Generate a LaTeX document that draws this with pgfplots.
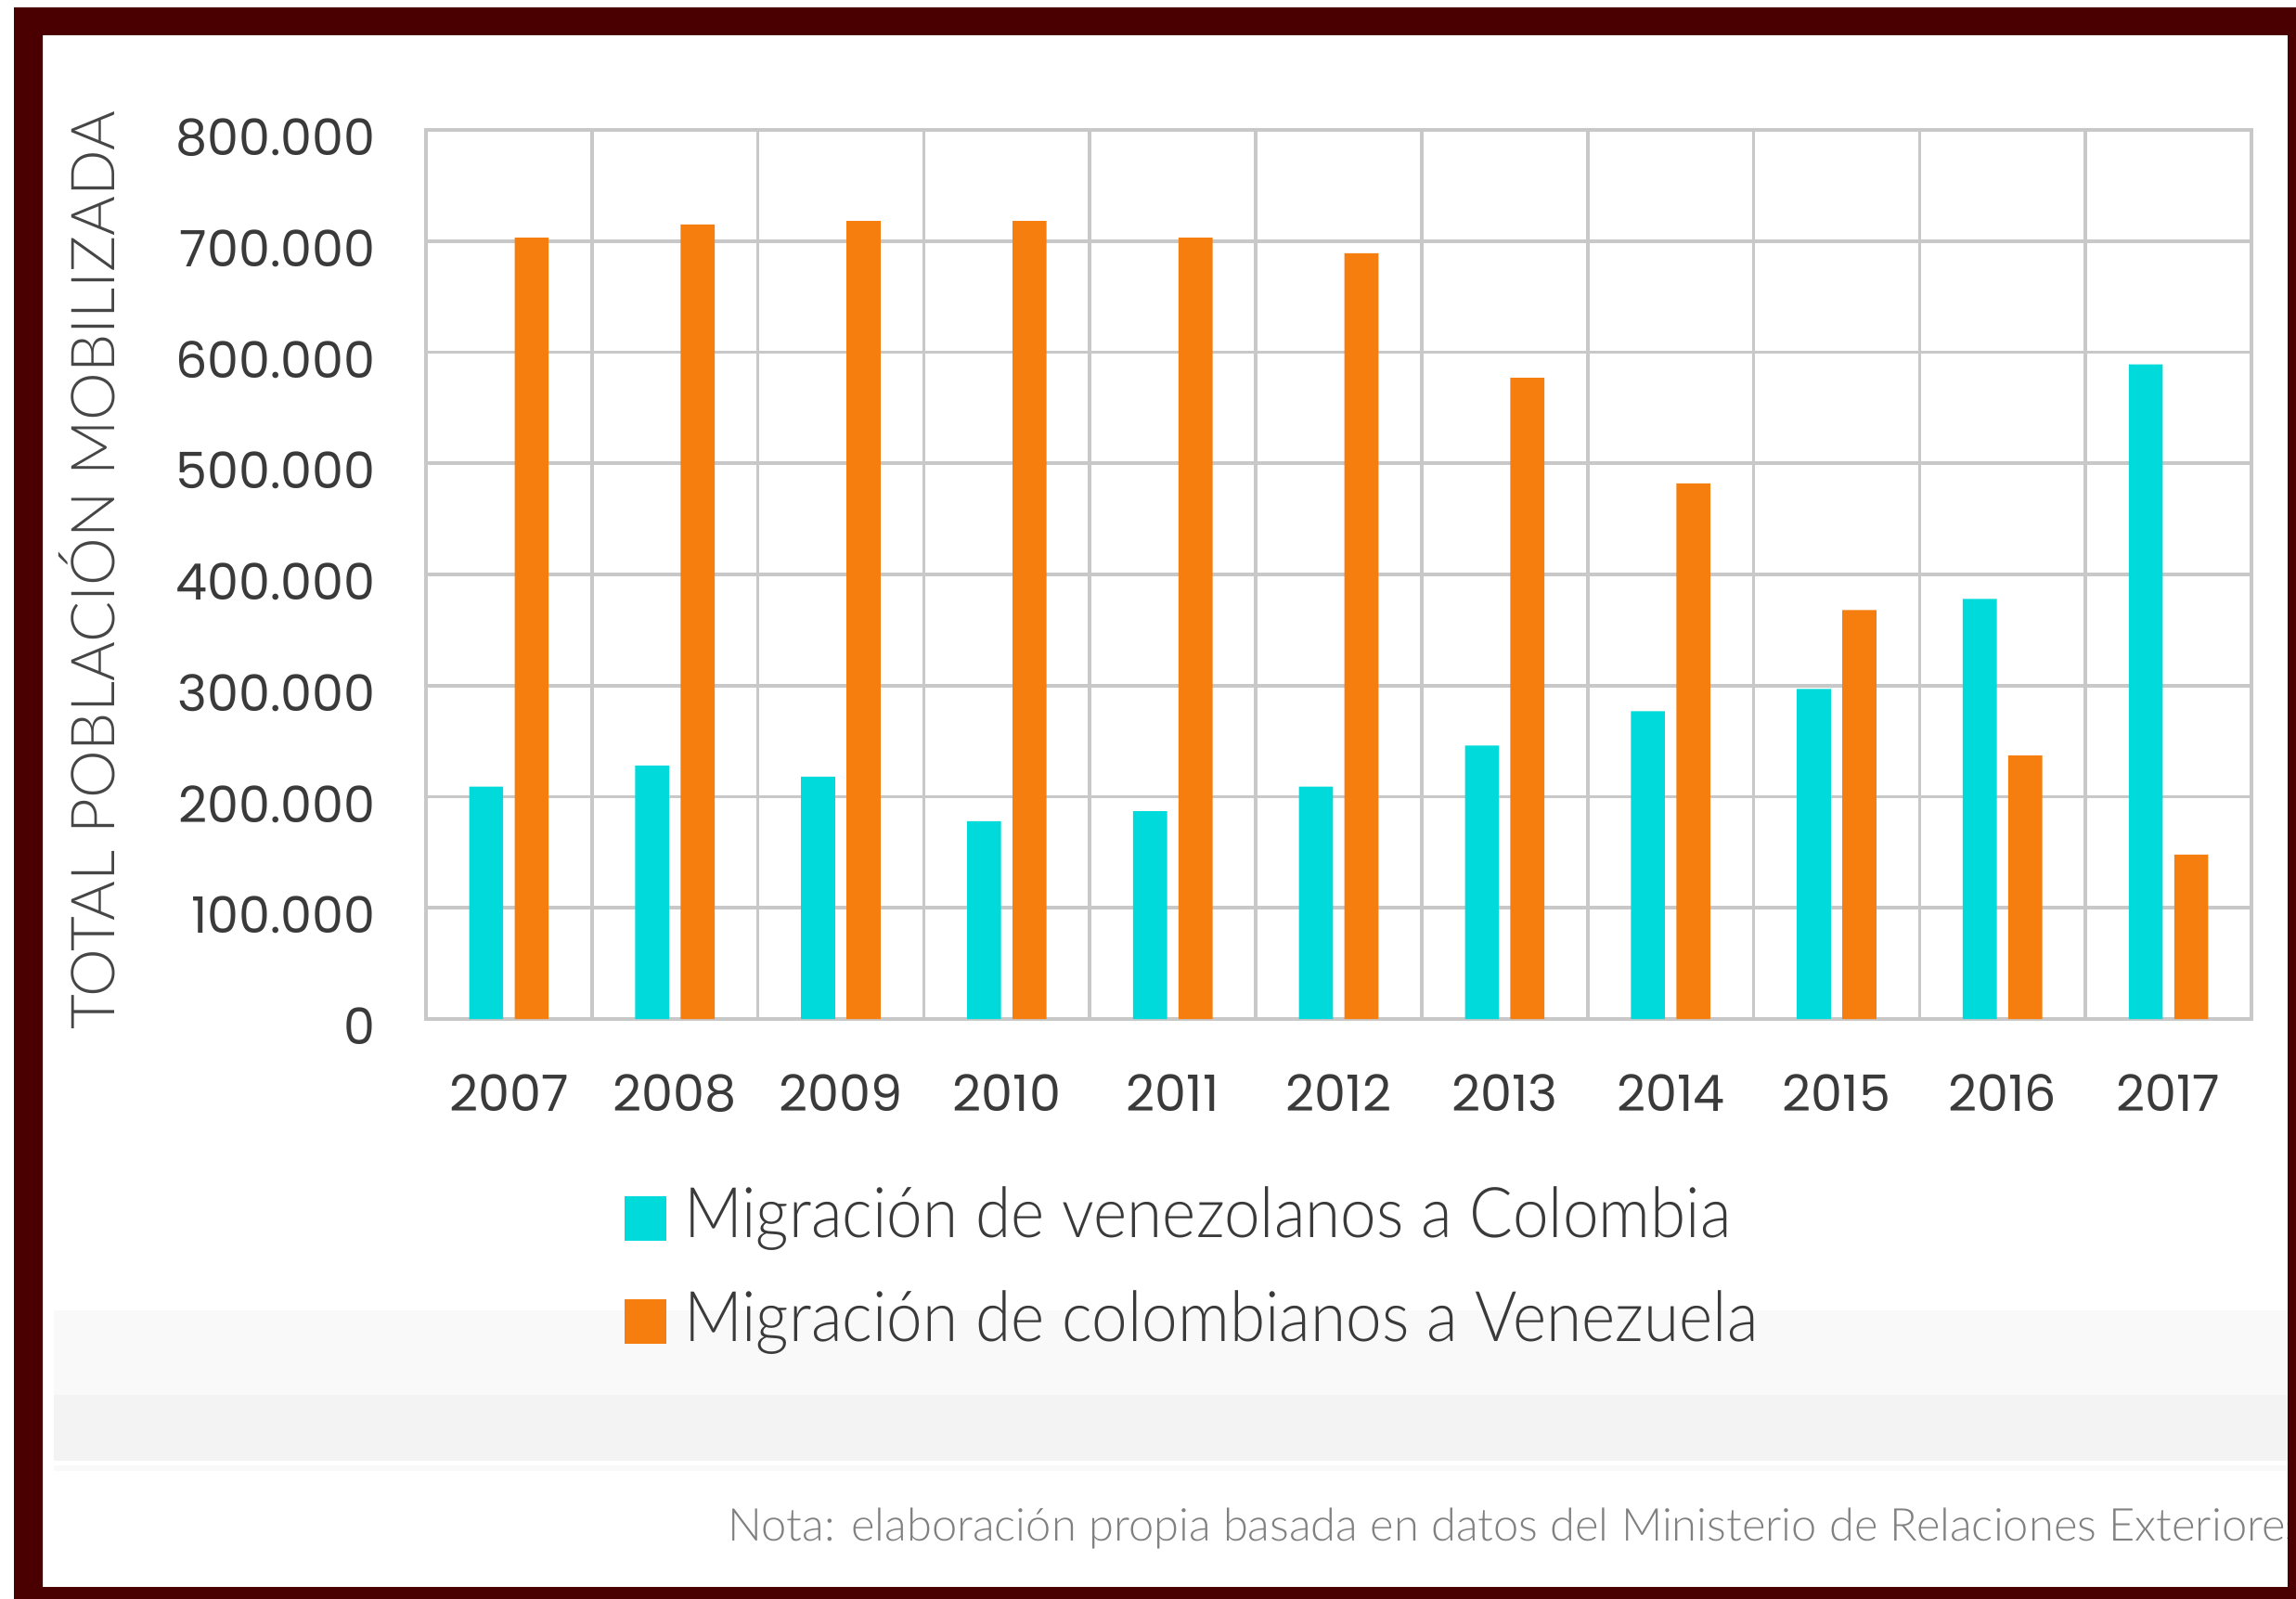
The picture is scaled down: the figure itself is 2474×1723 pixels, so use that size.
\documentclass[border=0pt]{standalone}
\usepackage{fontspec}
\usepackage{pgfplots}
\pgfplotsset{compat=1.18}
\newfontfamily\tickfont{Poppins}
\IfFontExistsTF{Lato Light}{%
  \newfontfamily\lightfont{Lato Light}%
  \newfontfamily\legfont{Lato Light}[FakeStretch=0.92]%
}{%
  \newfontfamily\lightfont{Lato}%
  \newfontfamily\legfont{Lato}[FakeStretch=0.92]%
}
\definecolor{borderred}{RGB}{74,0,0}
\definecolor{cyanbar}{RGB}{0,218,218}
\definecolor{orangebar}{RGB}{245,126,14}
\definecolor{gridgray}{RGB}{200,200,200}
\definecolor{ticktext}{RGB}{58,58,58}
\definecolor{labeltext}{RGB}{70,70,70}
\definecolor{notetext}{RGB}{128,128,128}
\definecolor{bandA}{RGB}{249,249,249}
\definecolor{bandB}{RGB}{243,243,243}
\begin{document}
\begin{tikzpicture}
\begin{scope}[x=0.3pt,y=-0.3pt]
  \fill[white] (0,0) rectangle (2474,1723);
  \fill[bandA] (58,1412) rectangle (2465,1503);
  \fill[bandB] (58,1503) rectangle (2465,1574);
  \fill[bandA] (58,1579) rectangle (2465,1585);
  \node[rotate=90, anchor=base, inner sep=0pt, text=labeltext,
        font=\lightfont\fontsize{19.6}{21}\selectfont] at (123,615) {TOTAL POBLACIÓN MOBILIZADA};
\end{scope}
\begin{axis}[
  at={(137.7pt,-329.4pt)}, anchor=south west,
  width=590.1pt, height=287.4pt, scale only axis,
  xmin=-0.5, xmax=10.5, ymin=0, ymax=800000,
  bar width=0.205,
  xtick={0,1,...,10},
  xticklabels={2007,2008,2009,2010,2011,2012,2013,2014,2015,2016,2017},
  minor xtick={-0.5,0.5,...,10.5},
  ytick={0,100000,200000,300000,400000,500000,600000,700000,800000},
  yticklabels={0,100.000,200.000,300.000,400.000,500.000,600.000,700.000,800.000},
  scaled y ticks=false,
  xmajorgrids=false, xminorgrids=true, ymajorgrids=true,
  major grid style={draw=gridgray, line width=1.08pt},
  minor grid style={draw=gridgray, line width=1.08pt},
  axis line style={draw=gridgray, line width=1.08pt},
  major tick length=0pt, minor tick length=0pt,
  tick style={draw=none},
  xticklabel style={anchor=north, inner sep=0pt, yshift=-17.7pt,
    font=\tickfont\fontsize{16.2}{18}\selectfont, text=ticktext},
  yticklabel style={anchor=east, inner sep=0pt, xshift=-16.2pt, yshift=-2.4pt,
    font=\tickfont\fontsize{16.2}{18}\selectfont, text=ticktext},
  legend style={at={(0.1088,-0.189)}, anchor=north west, draw=none, fill=none,
    inner sep=0pt, outer sep=0pt, row sep=15.5pt, column sep=5.7pt,
    font=\legfont\fontsize{22.6}{24}\selectfont,
    nodes={inner sep=0pt, text=ticktext}, cells={anchor=base west}},
  legend image code/.code={\fill[#1,draw=none] (0pt,-0.9pt) rectangle (13.5pt,13.5pt);},
]
\addplot[ybar, fill=cyanbar, draw=none, bar shift=-0.137] coordinates {
  (0,209000) (1,228000) (2,218000) (3,178000) (4,187000) (5,209000)
  (6,246000) (7,277000) (8,297000) (9,378000) (10,589000)};
\addlegendentry{\rule[-10pt]{0pt}{23pt}Migración de venezolanos a Colombia}
\addplot[ybar, fill=orangebar, draw=none, bar shift=0.137] coordinates {
  (0,703000) (1,715000) (2,718000) (3,718000) (4,703000) (5,689000)
  (6,577000) (7,482000) (8,368000) (9,237000) (10,148000)};
\addlegendentry{\rule[-10pt]{0pt}{23pt}Migración de colombianos a Venezuela}
\end{axis}
\begin{scope}[x=0.3pt,y=-0.3pt]
  \node[anchor=base west, inner sep=0pt, text=notetext,
        font=\lightfont\fontsize{14.65}{16}\selectfont] at (784,1660)
        {Nota: elaboración propia basada en datos del Ministerio de Relaciones Exteriores};
  \fill[borderred, even odd rule] (15,8) rectangle (2474,1723) (46,38) rectangle (2465,1710);
  \pgfresetboundingbox
  \path[use as bounding box] (0,0) rectangle (2474,1723);
\end{scope}
\end{tikzpicture}
\end{document}
